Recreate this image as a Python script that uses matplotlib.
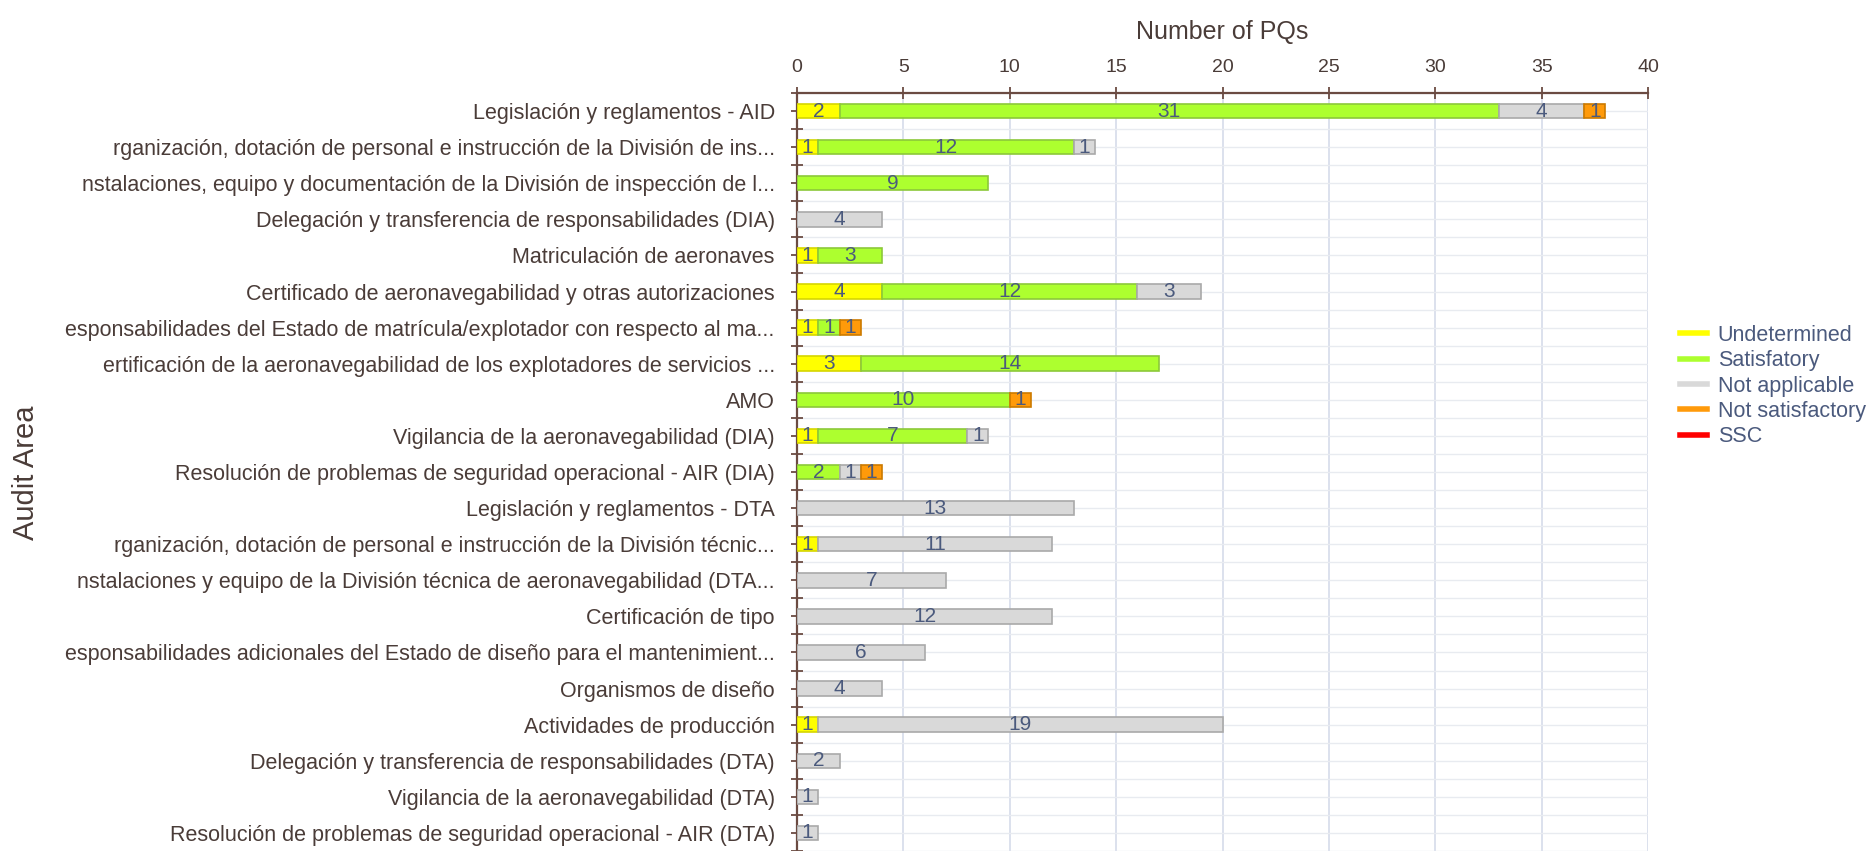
import numpy as np
import matplotlib
matplotlib.use("Agg")
from matplotlib import pyplot as plt
from matplotlib.lines import Line2D

# Audit areas (top to bottom), text as shown in the chart (clipped labels)
areas = [
    "Legislación y reglamentos - AID",
    "rganización, dotación de personal e instrucción de la División de ins...",
    "nstalaciones, equipo y documentación de la División de inspección de l...",
    "Delegación y transferencia de responsabilidades (DIA)",
    "Matriculación de aeronaves",
    "Certificado de aeronavegabilidad y otras autorizaciones",
    "esponsabilidades del Estado de matrícula/explotador con respecto al ma...",
    "ertificación de la aeronavegabilidad de los explotadores de servicios ...",
    "AMO",
    "Vigilancia de la aeronavegabilidad (DIA)",
    "Resolución de problemas de seguridad operacional - AIR (DIA)",
    "Legislación y reglamentos - DTA",
    "rganización, dotación de personal e instrucción de la División técnic...",
    "nstalaciones y equipo de la División técnica de aeronavegabilidad (DTA...",
    "Certificación de tipo",
    "esponsabilidades adicionales del Estado de diseño para el mantenimient...",
    "Organismos de diseño",
    "Actividades de producción",
    "Delegación y transferencia de responsabilidades (DTA)",
    "Vigilancia de la aeronavegabilidad (DTA)",
    "Resolución de problemas de seguridad operacional - AIR (DTA)",
]

undetermined     = [2, 1, 0, 0, 1, 4, 1, 3, 0, 1, 0, 0, 1, 0, 0, 0, 0, 1, 0, 0, 0]
satisfactory     = [31, 12, 9, 0, 3, 12, 1, 14, 10, 7, 2, 0, 0, 0, 0, 0, 0, 0, 0, 0, 0]
not_applicable   = [4, 1, 0, 4, 0, 3, 0, 0, 0, 1, 1, 13, 11, 7, 12, 6, 4, 19, 2, 1, 1]
not_satisfactory = [1, 0, 0, 0, 0, 0, 1, 0, 1, 0, 1, 0, 0, 0, 0, 0, 0, 0, 0, 0, 0]
ssc              = [0] * 21

series_names = ["Undetermined", "Satisfatory", "Not applicable", "Not satisfactory", "SSC"]
series_vals = [undetermined, satisfactory, not_applicable, not_satisfactory, ssc]
face_cols = ["#ffff00", "#adff2f", "#d9d9d9", "#ff9a0a", "#ff0000"]
edge_cols = ["#d6d600", "#8cc83a", "#a9a9a9", "#cc7a00", "#cc0000"]

txt_col = "#4a3c38"
val_col = "#4b5a7d"
axis_col = "#6b4b42"

plt.rcParams['font.family'] = ['Liberation Sans', 'DejaVu Sans']

fig = plt.figure(figsize=(18.71, 8.51), dpi=100)
ax = fig.add_axes([797 / 1871, 0.0, (1648 - 797) / 1871, 1 - 93 / 851])

y = np.arange(len(areas))
left = np.zeros(len(areas))
for name, vals, fc, ec in zip(series_names, series_vals, face_cols, edge_cols):
    vals = np.array(vals, dtype=float)
    keep = vals > 0          # no zero-width bars (they leave an edge line)
    if keep.any():
        ax.barh(y[keep], vals[keep], left=left[keep], height=0.4, color=fc,
                edgecolor=ec, linewidth=1.2, zorder=3)
    for yi, (l, v) in enumerate(zip(left, vals)):
        if v > 0:
            ax.text(l + v / 2, yi, str(int(v)), ha='center', va='center',
                    fontsize=15, color=val_col, zorder=4)
    left = left + vals

ax.set_xlim(0, 40)
ax.set_ylim(len(areas) - 0.5, -0.5)

ax.xaxis.tick_top()
ax.xaxis.set_label_position('top')
ax.set_xticks(np.arange(0, 41, 5))
ax.set_xlabel("Number of PQs", fontsize=18, color=txt_col, labelpad=14)
ax.tick_params(axis='x', direction='inout', length=9, width=1.3, color=axis_col,
               labelsize=14, labelcolor=txt_col, pad=8)

ax.set_yticks(y)
ax.set_yticklabels(areas)
ax.set_yticks(np.arange(-0.5, len(areas), 1.0), minor=True)
ax.tick_params(axis='y', which='major', direction='out', length=4, width=1.3,
               color=axis_col, labelsize=15.5, labelcolor=txt_col, pad=12)
ax.tick_params(axis='y', which='minor', direction='inout', length=9, width=1.3, color=axis_col)

for s in ['right', 'bottom']:
    ax.spines[s].set_visible(False)
for s in ['top', 'left']:
    ax.spines[s].set_color(axis_col)
    ax.spines[s].set_linewidth(1.6)

# grid
for xv in np.arange(5, 41, 5):
    ax.axvline(xv, color="#d6dcea", linewidth=1.2, zorder=1)
for yv in np.arange(-0.5, len(areas), 0.5):
    ax.axhline(yv, color="#e8ebf0", linewidth=1.0, zorder=1)

fig.text(26 / 1871, 1 - 473 / 851, "Audit Area", rotation=90, ha='center', va='center',
         fontsize=21, color=txt_col)

handles = [Line2D([0], [0], color=c, linewidth=4) for c in face_cols]
leg = fig.legend(handles, series_names, loc='upper left',
                 bbox_to_anchor=(1680 / 1871, 1 - 325 / 851), frameon=False,
                 fontsize=15.5, handlelength=1.25, handletextpad=0.5,
                 labelspacing=0.2, borderaxespad=0, borderpad=0)
for t in leg.get_texts():
    t.set_color(val_col)

fig.savefig("out.png", dpi=100)
